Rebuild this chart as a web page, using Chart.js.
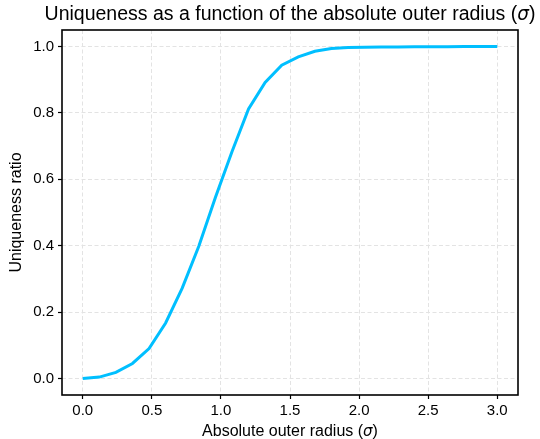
<!DOCTYPE html>
<html>
<head>
<meta charset="utf-8">
<script src="https://cdn.jsdelivr.net/npm/chart.js@4.4.1/dist/chart.umd.min.js"></script>
<style>
    html, body { margin: 0; padding: 0; background: #fff; }
    #wrap { width: 540px; height: 439px; }
</style>
</head>
<body>
<div id="wrap"><canvas id="chart" width="540" height="439"></canvas></div>
<script>
// Outer radius values (sigma) and measured uniqueness ratio
const radius = [0.00, 0.12, 0.24, 0.36, 0.48, 0.60, 0.72, 0.84, 0.96, 1.08,
                1.20, 1.32, 1.44, 1.56, 1.68, 1.80, 1.92, 2.04, 2.16, 2.28,
                2.40, 2.52, 2.64, 2.76, 2.88, 3.00];
const uniqueness = [0.000, 0.004, 0.018, 0.045, 0.090, 0.167, 0.272, 0.398, 0.545, 0.683,
                    0.812, 0.892, 0.944, 0.969, 0.986, 0.994, 0.997, 0.998, 0.999, 0.999,
                    0.9995, 0.9997, 0.9998, 0.9999, 1.000, 1.000];
const xTicks = [0, 0.5, 1.0, 1.5, 2.0, 2.5, 3.0];
const yTicks = [0, 0.2, 0.4, 0.6, 0.8, 1.0];

const FONT = "'Liberation Sans', Arial, sans-serif";
const SIGMA_FONT = "'DejaVu Sans', sans-serif";

// draw a line of text made of parts with different fonts, centred on cx
function drawMixed(ctx, parts, cx, cy) {
    let total = 0;
    parts.forEach(p => { ctx.font = p.font; p.w = ctx.measureText(p.text).width; total += p.w; });
    let x = cx - total / 2;
    ctx.textBaseline = 'middle';
    ctx.textAlign = 'left';
    ctx.fillStyle = '#000';
    parts.forEach(p => { ctx.font = p.font; ctx.fillText(p.text, x, cy); x += p.w; });
}

// frame round the plot area plus the title and x label (they carry an italic sigma)
const frameBox = {
    id: 'frameBox',
    afterDraw(chart) {
        const { ctx, chartArea: a } = chart;
        ctx.save();
        ctx.strokeStyle = '#000';
        ctx.lineWidth = 1.6;
        ctx.strokeRect(a.left, a.top, a.right - a.left, a.bottom - a.top);

        const cx = (a.left + a.right) / 2;
        drawMixed(ctx, [
            { text: 'Uniqueness as a function of the absolute outer radius (', font: '19.5px ' + FONT },
            { text: '\u03c3', font: 'italic 18.5px ' + SIGMA_FONT },
            { text: ')', font: '19.5px ' + FONT }
        ], cx, 15);
        drawMixed(ctx, [
            { text: 'Absolute outer radius (', font: '16px ' + FONT },
            { text: '\u03c3', font: 'italic 15px ' + SIGMA_FONT },
            { text: ')', font: '16px ' + FONT }
        ], cx, 432);
        ctx.restore();
    }
};

const gridStyle = {
    color: '#e3e3e3',
    lineWidth: 1,
    drawTicks: true,
    tickLength: 4,
    tickColor: '#000',
    tickWidth: 1.2,
    tickBorderDash: []
};

const borderStyle = { display: false, dash: [4, 2.5] };

new Chart(document.getElementById('chart'), {
    type: 'line',
    data: {
        datasets: [{
            data: radius.map((r, i) => ({ x: r, y: uniqueness[i] })),
            borderColor: '#00bfff',
            borderWidth: 3,
            pointRadius: 0,
            fill: false,
            tension: 0
        }]
    },
    options: {
        responsive: false,
        animation: false,
        layout: { padding: { left: 0, right: 22, top: 30, bottom: 0 } },
        plugins: {
            legend: { display: false },
            tooltip: { enabled: false },
            title: { display: false }
        },
        scales: {
            x: {
                type: 'linear',
                min: -0.15,
                max: 3.15,
                afterBuildTicks: s => { s.ticks = xTicks.map(v => ({ value: v })); },
                afterFit: s => { s.height = 44; },
                grid: gridStyle,
                border: borderStyle,
                ticks: {
                    color: '#000',
                    padding: 3,
                    font: { family: FONT, size: 15 },
                    callback: v => v.toFixed(1)
                }
            },
            y: {
                min: -0.05,
                max: 1.05,
                afterBuildTicks: s => { s.ticks = yTicks.map(v => ({ value: v })); },
                afterFit: s => { s.width = 62; },
                grid: gridStyle,
                border: borderStyle,
                ticks: {
                    color: '#000',
                    padding: 4,
                    font: { family: FONT, size: 15 },
                    callback: v => v.toFixed(1)
                },
                title: {
                    display: true,
                    text: 'Uniqueness ratio',
                    color: '#000',
                    font: { family: FONT, size: 16, lineHeight: 1 },
                    padding: { top: 9, bottom: 0 }
                }
            }
        }
    },
    plugins: [frameBox]
});
</script>
</body>
</html>
